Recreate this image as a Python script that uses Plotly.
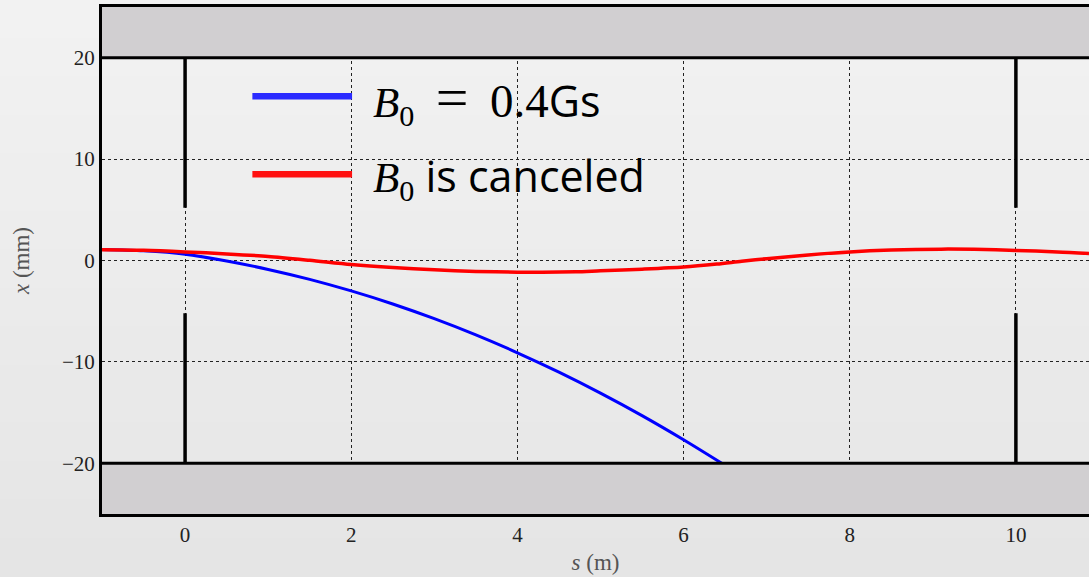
import plotly.graph_objects as go

# Beam offset along the line, field on (blue) and field cancelled (red)
s_b0 = [-1.0, -0.5, 0.0, 0.5, 1.0, 1.5, 2.0, 2.5, 3.0, 3.5, 4.0, 4.5, 5.0, 5.5, 6.0, 6.46]
x_b0 = [1.08, 0.95, 0.62, -0.05, -0.88, -1.86, -3.0, -4.29, -5.74, -7.34, -9.1, -11.01, -13.08, -15.3, -17.68, -20.0]

s_cancel = [-1.0, -0.5, 0.0, 0.5, 1.0, 1.5, 2.0, 2.5, 3.0, 3.5, 4.0, 4.3, 4.7, 5.0, 5.5, 6.0, 6.4, 6.7,
            7.0, 7.5, 8.0, 8.5, 9.1, 9.5, 10.0, 10.5, 10.88]
x_cancel = [1.05, 1.0, 0.85, 0.65, 0.4, 0.02, -0.4, -0.7, -0.92, -1.08, -1.15, -1.17, -1.12, -1.02, -0.86, -0.65, -0.35, -0.07,
            0.18, 0.55, 0.85, 1.03, 1.12, 1.1, 0.99, 0.85, 0.69]

legend_labels = ['<i>B</i><sub>0</sub>\u2002<span style="font-size:58px">=</span>\u2002<span style="font-size:47px">0.4</span>',
                 "<i>B</i><sub>0</sub>"]
legend_suffix = ["Gs", " is canceled"]
x_ticks = [0, 2, 4, 6, 8, 10]
y_ticks = [-20, -10, 0, 10, 20]
gap_s = [0, 10]

X_RANGE = [-1.0, 10.88]
Y_RANGE = [-25.0, 25.0]
SERIF = "Liberation Serif"
SANS = "Open Sans"

fig = go.Figure()

fig.add_trace(go.Scatter(x=s_b0, y=x_b0, mode="lines",
                         line=dict(color="#0000ff", width=3, shape="spline", smoothing=0.8),
                         showlegend=False))
fig.add_trace(go.Scatter(x=s_cancel, y=x_cancel, mode="lines",
                         line=dict(color="#ff0000", width=3.5, shape="spline", smoothing=0.8),
                         showlegend=False))

shapes = []

# soft vertical background gradient for the whole page
n_band = 30
top_c, bot_c = 242, 229
y0p, y1p = -63 / 507, 1 + 7 / 507
for i in range(n_band):
    f = i / (n_band - 1)
    c = round(top_c + (bot_c - top_c) * f)
    ya = y1p - (y1p - y0p) * i / n_band
    yb = y1p - (y1p - y0p) * (i + 1) / n_band
    shapes.append(dict(type="rect", xref="paper", yref="paper", x0=-0.2, x1=1.05,
                       y0=yb - 0.001, y1=ya + 0.001, fillcolor=f"rgb({c},{c},{c})",
                       line=dict(width=0), layer="below"))

# pipe walls above and below the aperture
for y0, y1, edge in [(20, 25, 20), (-25, -20, -20)]:
    shapes.append(dict(type="rect", xref="x", yref="y", x0=X_RANGE[0], x1=X_RANGE[1] + 1,
                       y0=y0, y1=y1, fillcolor="#d1cfd1", line=dict(width=0), layer="above"))
    shapes.append(dict(type="line", xref="x", yref="y", x0=X_RANGE[0], x1=X_RANGE[1] + 1,
                       y0=edge, y1=edge, line=dict(color="black", width=3), layer="above"))

# aperture plates at both ends
for s in gap_s:
    for y0, y1 in [(5.2, 20), (-20, -5.2)]:
        shapes.append(dict(type="line", xref="x", yref="y", x0=s, x1=s, y0=y0, y1=y1,
                           line=dict(color="black", width=3.5), layer="above"))

# legend swatches
legend_colors = ["#2b2bff", "#ff1010"]
legend_y = [16.2, 8.5]
for col, ly in zip(legend_colors, legend_y):
    shapes.append(dict(type="line", xref="x", yref="y", x0=0.81, x1=2.01, y0=ly, y1=ly,
                       line=dict(color=col, width=6.5), layer="above"))

annotations = []
text_y = [15.9, 8.2]
for lab, suf, ty in zip(legend_labels, legend_suffix, text_y):
    annotations.append(dict(
        x=2.24, y=ty, xref="x", yref="y", xanchor="left", yanchor="middle", showarrow=False,
        text=f'<span style="font-family:{SERIF}">{lab}</span>{suf}',
        font=dict(family=SANS, size=43, color="black")))

fig.update_layout(
    width=1089, height=577,
    margin=dict(l=102, r=0, t=7, b=63),
    paper_bgcolor="#ececec",
    plot_bgcolor="rgba(0,0,0,0)",
    shapes=shapes,
    annotations=annotations,
    xaxis=dict(
        range=X_RANGE, tickvals=x_ticks, ticktext=[str(v) for v in x_ticks],
        showgrid=True, gridcolor="#222222", griddash="dot", gridwidth=1,
        zeroline=False, showline=True, linecolor="black", linewidth=3, mirror=True,
        ticks="", tickfont=dict(family=SERIF, size=21, color="#222222"),
        title=dict(text="<i>s</i> (m)", font=dict(family=SERIF, size=23, color="#555555"), standoff=8),
    ),
    yaxis=dict(
        range=Y_RANGE, tickvals=y_ticks, ticktext=["\u221220", "\u221210", "0", "10", "20"],
        showgrid=True, gridcolor="#222222", griddash="dot", gridwidth=1,
        zeroline=False, showline=True, linecolor="black", linewidth=3, mirror=False,
        ticks="", tickfont=dict(family=SERIF, size=21, color="#222222"),
        title=dict(text="<i>x</i> (mm)", font=dict(family=SERIF, size=23, color="#555555"), standoff=26),
    ),
)

fig.write_html("out.html")
